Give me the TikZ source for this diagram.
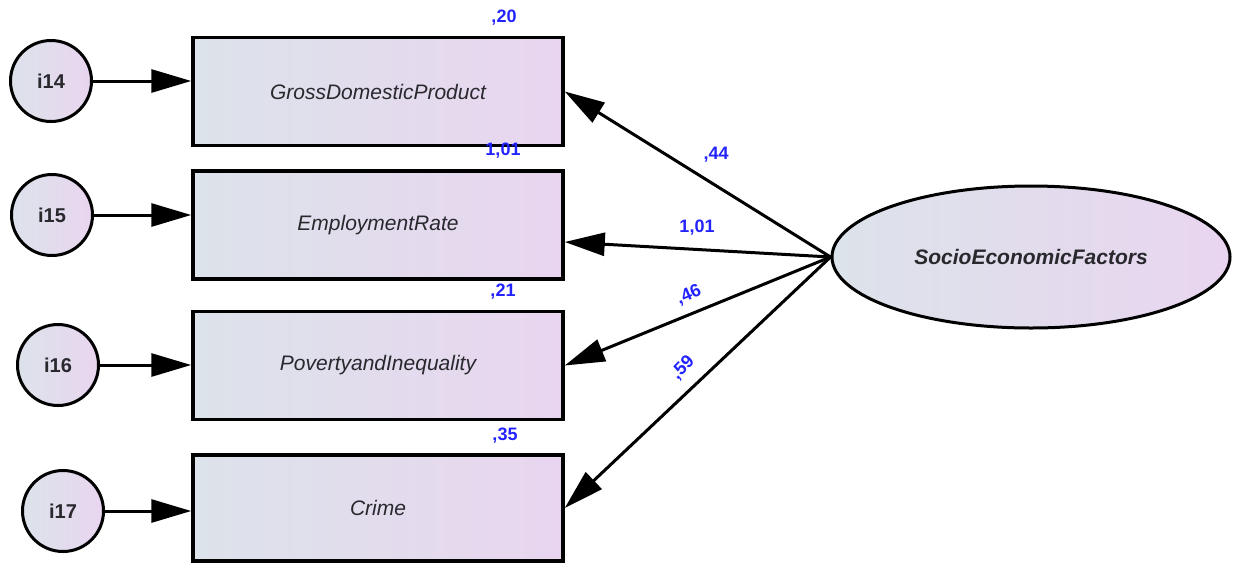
\documentclass[tikz,border=0pt]{standalone}
\usepackage{fontspec}
\setmainfont{Liberation Sans}
\usetikzlibrary{arrows.meta,shapes.geometric}
\definecolor{shadeL}{RGB}{220,227,234}
\definecolor{shadeR}{RGB}{233,213,240}
\definecolor{estblue}{RGB}{35,35,255}
\definecolor{txtgray}{RGB}{40,40,45}
\tikzset{
  obsbox/.style={rectangle, draw=black, line width=3.5pt, inner sep=0pt,
    minimum width=370pt, minimum height=108pt, left color=shadeL, right color=shadeR,
    text=txtgray, font=\fontsize{21}{25}\selectfont\itshape},
  errc/.style={circle, draw=black, line width=3pt, inner sep=0pt, minimum size=81pt,
    left color=shadeL, right color=shadeR, text=txtgray,
    font=\fontsize{20}{24}\selectfont\bfseries},
  latent/.style={ellipse, draw=black, line width=3pt, inner sep=0pt,
    minimum width=398pt, minimum height=142pt, left color=shadeL, right color=shadeR,
    text=txtgray, font=\fontsize{21}{25}\selectfont\bfseries\itshape},
  est/.style={text=estblue, inner sep=0pt, font=\fontsize{18}{21}\selectfont\bfseries},
  path/.style={line width=3pt, draw=black, -{Triangle[length=40pt,width=23pt]}}
}
\begin{document}
\begin{tikzpicture}[x=1pt,y=-1pt]
\useasboundingbox (0,0) rectangle (1238,563);

% observed indicators
\node[obsbox] (gdp) at (378,91.5) {GrossDomesticProduct};
\node[obsbox] (emp) at (378,225) {EmploymentRate};
\node[obsbox] (pov) at (378,365.5) {PovertyandInequality};
\node[obsbox, minimum height=106pt] (crm) at (378,508) {Crime};

% error terms
\node[errc] (i14) at (51,81) {i14};
\node[errc] (i15) at (52,215) {i15};
\node[errc] (i16) at (58,365) {i16};
\node[errc] (i17) at (63,511) {i17};

% latent factor
\node[latent] (sef) at (1031,257) {SocioEconomicFactors};

% error paths
\draw[path] (i14.east) -- (i14.east -| gdp.west);
\draw[path] (i15.east) -- (i15.east -| emp.west);
\draw[path] (i16.east) -- (i16.east -| pov.west);
\draw[path] (i17.east) -- (i17.east -| crm.west);

% loadings
\draw[path] (sef.west) -- (gdp.east);
\draw[path] (sef.west) -- ([yshift=-17pt]emp.east);
\draw[path] (sef.west) -- (pov.east);
\draw[path] (sef.west) -- (crm.east);

% squared multiple correlations
\node[est] (r1) at (504,18) {,20};
\node[est] (r2) at (503,151) {1,01};
\node[est] (r3) at (503,292) {,21};
\node[est] (r4) at (505,436) {,35};

% loading estimates
\node[est] (l1) at (716,155) {,44};
\node[est] (l2) at (697,228) {1,01};
\node[est, rotate=23] (l3) at (689,295) {,46};
\node[est, rotate=45] (l4) at (683,368) {,59};
\end{tikzpicture}
\end{document}
